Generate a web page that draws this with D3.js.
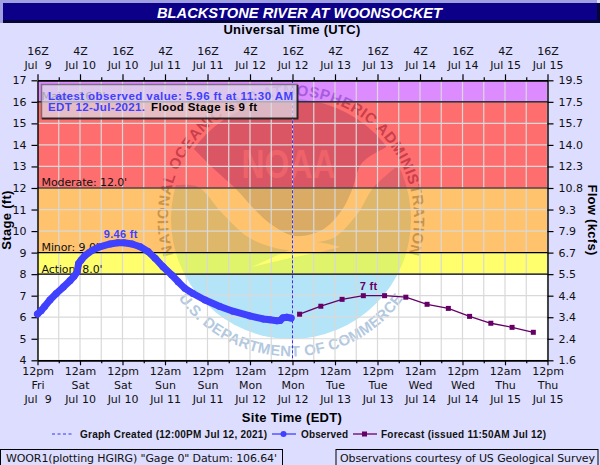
<!DOCTYPE html>
<html>
<head>
<meta charset="utf-8">
<script src="https://d3js.org/d3.v7.min.js"></script>
<style>
  html, body { margin: 0; padding: 0; background: #ddddff; overflow: hidden; }
  svg { display: block; }
  .tick text, .lab { font-family: "DejaVu Sans", sans-serif; font-size: 11px; fill: #111; }
  .bold { font-family: "Liberation Sans", Arial, sans-serif; font-weight: bold; }
</style>
</head>
<body>
<script>
// hours are counted from 12pm EDT Jul 9
const obsHours = [0, 1, 2, 3.5, 5.3, 7.3, 9.2, 10.3, 11.2, 11.6, 12.3, 13.4, 15.4, 17.6, 20.5, 22.7, 24.4, 26.7, 29, 31.2, 33.2, 35.4, 37.9, 39.7, 41.6, 43.9, 47.3, 51.5, 55.2, 60, 63.7, 65.6, 67.6, 68.5, 69.3, 70.4, 71.6];
const obsStage = [6.15, 6.3, 6.5, 6.8, 7.1, 7.4, 7.7, 7.9, 8.1, 8.5, 8.65, 8.86, 9.1, 9.27, 9.4, 9.46, 9.46, 9.4, 9.27, 9.05, 8.74, 8.35, 7.96, 7.65, 7.34, 7.1, 6.8, 6.5, 6.28, 6.06, 5.92, 5.88, 5.84, 5.85, 5.97, 6.0, 5.96];
const fcstHours = [74, 80, 86, 92, 98, 104, 110, 116, 122, 128, 134, 140];
const fcstStage = [6.14, 6.51, 6.83, 7.0, 7.0, 6.93, 6.6, 6.41, 6.04, 5.72, 5.53, 5.3];

const stageTicks = [4, 5, 6, 7, 8, 9, 10, 11, 12, 13, 14, 15, 16, 17];
const flowLabels = ["1.6", "2.4", "3.4", "4.4", "5.5", "6.7", "7.9", "9.3", "10.8", "12.3", "14.0", "15.7", "17.5", "19.5"];

const majorHours = [0, 12, 24, 36, 48, 60, 72, 84, 96, 108, 120, 132, 144];
const minorHours = [6, 18, 30, 42, 54, 66, 78, 90, 102, 114, 126, 138];
const bottomTime = ["12pm", "12am", "12pm", "12am", "12pm", "12am", "12pm", "12am", "12pm", "12am", "12pm", "12am", "12pm"];
const bottomDay = ["Fri", "Sat", "Sat", "Sun", "Sun", "Mon", "Mon", "Tue", "Tue", "Wed", "Wed", "Thu", "Thu"];
const dates = ["Jul  9", "Jul 10", "Jul 10", "Jul 11", "Jul 11", "Jul 12", "Jul 12", "Jul 13", "Jul 13", "Jul 14", "Jul 14", "Jul 15", "Jul 15"];
const topTime = ["16Z", "4Z", "16Z", "4Z", "16Z", "4Z", "16Z", "4Z", "16Z", "4Z", "16Z", "4Z", "16Z"];

const bandFrom = [16, 12, 9, 8];
const bandTo = [17, 16, 12, 9];
const bandColors = ["#c335ff", "#ff0000", "#ff9500", "#ffff00"];
const stageLines = [16, 12, 9, 8];
const stageNames = ["Major: 16.0'", "Moderate: 12.0'", "Minor: 9.0'", "Action: 8.0'"];

const createdHour = 72;
const peakLabel = { hour: 23.5, stage: 9.46, text: "9.46 ft" };
const fcstLabel = { hour: 93.5, stage: 7, text: "7 ft" };

const obsColor = "#4040ff";
const fcstColor = "#660066";
const gridColor = "#d9d9d9";

const plotLeft = 37.5, plotRight = 547.5, plotTop = 80.3, plotBottom = 360.3;

const x = d3.scaleLinear().domain([0, 144]).range([plotLeft, plotRight]);
const y = d3.scaleLinear().domain([4, 17]).range([plotBottom, plotTop]);

const svg = d3.select("body").append("svg").attr("width", 600).attr("height", 465);

svg.append("rect").attr("width", 600).attr("height", 465).attr("fill", "#ddddff");

// title bar
svg.append("rect").attr("width", 600).attr("height", 23).attr("fill", "#9fa0e0");
svg.append("rect").attr("x", 3).attr("y", 3).attr("width", 597).attr("height", 20).attr("fill", "#05053a");
svg.append("rect").attr("x", 3).attr("y", 3).attr("width", 594).attr("height", 17).attr("fill", "#0c0088");
svg.append("rect").attr("x", 597).attr("y", 0).attr("width", 3).attr("height", 3).attr("fill", "#ddddff");
svg.append("text").attr("class", "bold").attr("x", 157).attr("y", 18)
  .attr("fill", "#fff").attr("font-size", 15).attr("font-style", "italic")
  .attr("textLength", 285).attr("lengthAdjust", "spacingAndGlyphs")
  .text("BLACKSTONE RIVER AT WOONSOCKET");

// plot background
svg.append("rect").attr("x", plotLeft).attr("y", plotTop).attr("width", plotRight - plotLeft).attr("height", plotBottom - plotTop).attr("fill", "#fff");

// watermark, sits under the translucent stage bands
const cx = 291, cy = 219, r = 120;
const defs = svg.append("defs");
defs.append("clipPath").attr("id", "plotClip").append("rect")
  .attr("x", plotLeft).attr("y", plotTop).attr("width", plotRight - plotLeft).attr("height", plotBottom - plotTop);
defs.append("clipPath").attr("id", "logoClip").append("circle").attr("cx", cx).attr("cy", cy).attr("r", r);
defs.append("path").attr("id", "arcTop")
  .attr("d", `M${cx - 93},${cy + 80} A123,123 0 1 1 ${cx + 93},${cy + 80}`);
defs.append("path").attr("id", "arcBottom")
  .attr("d", `M${cx - 124},${cy + 60} A138,138 0 0 0 ${cx + 124},${cy + 60}`);

const logo = svg.append("g").attr("clip-path", "url(#plotClip)");
const logoInner = logo.append("g").attr("clip-path", "url(#logoClip)");
const curve = d3.line().curve(d3.curveCatmullRom);
const lowerShape = [[160, 184], [172, 185], [198, 187], [222, 213], [248, 237], [272, 247], [293, 250], [315, 243], [335, 237], [358, 213], [373, 188], [395, 168]];
logoInner.append("path")
  .attr("d", curve(lowerShape) + "L430,168L430,350L160,350Z")
  .attr("fill", "#b4e4f8");
const upperShape = [[193, 148], [215, 170], [235, 188], [258, 213], [275, 227], [295, 236], [322, 230], [342, 210], [352, 190], [362, 163], [385, 148]];
logoInner.append("path")
  .attr("d", curve(upperShape) + "L430,90L160,90Z")
  .attr("fill", "#aac8eb");
const streakTop = [[252, 267], [285, 252], [312, 242], [340, 247]];
logoInner.append("path")
  .attr("d", curve(streakTop) + "L320,252L290,258Z")
  .attr("fill", "#fff");
logo.append("text").attr("class", "bold").attr("x", 288.5).attr("y", 178)
  .attr("text-anchor", "middle").attr("fill", "#fff").attr("fill-opacity", 0.55)
  .attr("font-size", 41).attr("textLength", 94).attr("lengthAdjust", "spacingAndGlyphs")
  .text("NOAA");
logo.append("text").attr("class", "bold").attr("font-size", 15).attr("fill", "#7f93b0")
  .append("textPath").attr("href", "#arcTop").attr("startOffset", "50%").attr("text-anchor", "middle")
  .attr("letter-spacing", 0.6)
  .text("NATIONAL OCEANIC AND ATMOSPHERIC ADMINISTRATION");
logo.append("text").attr("class", "bold").attr("font-size", 15).attr("fill", "#b3c9df")
  .append("textPath").attr("href", "#arcBottom").attr("startOffset", "50%").attr("text-anchor", "middle")
  .attr("letter-spacing", 0.3)
  .text("U.S. DEPARTMENT OF COMMERCE");

// stage bands
svg.append("g").selectAll("rect").data(bandFrom).join("rect")
  .attr("x", plotLeft).attr("width", plotRight - plotLeft)
  .attr("y", (d, i) => y(bandTo[i]))
  .attr("height", (d, i) => y(d) - y(bandTo[i]))
  .attr("fill", (d, i) => bandColors[i])
  .attr("fill-opacity", 0.57);

// grid
const grid = svg.append("g").attr("stroke", gridColor).attr("stroke-width", 1.2);
grid.selectAll("line.v").data(majorHours.concat(minorHours)).join("line").attr("class", "v")
  .attr("x1", d => x(d)).attr("x2", d => x(d)).attr("y1", plotTop).attr("y2", plotBottom);
grid.selectAll("line.h").data(stageTicks).join("line").attr("class", "h")
  .attr("x1", plotLeft).attr("x2", plotRight).attr("y1", d => y(d)).attr("y2", d => y(d));

// flood stage lines and their names
svg.append("g").selectAll("line").data(stageLines).join("line")
  .attr("x1", plotLeft).attr("x2", plotRight).attr("y1", d => y(d)).attr("y2", d => y(d))
  .attr("stroke", "#000").attr("stroke-width", 1.2);
svg.append("g").selectAll("text").data(stageLines).join("text").attr("class", "lab")
  .attr("x", plotLeft + 4).attr("y", d => y(d) - 1.5)
  .attr("letter-spacing", -0.1)
  .text((d, i) => stageNames[i]);

// graph created marker
svg.append("line").attr("x1", x(createdHour)).attr("x2", x(createdHour)).attr("y1", plotTop).attr("y2", plotBottom)
  .attr("stroke", "#3333ff").attr("stroke-dasharray", "3,2").attr("stroke-width", 1);

// axes
function tickStyle(g) {
  g.selectAll(".domain").attr("stroke", "#000").attr("stroke-width", 1.4);
  g.selectAll(".tick line").attr("stroke", "#000").attr("stroke-width", 1.2);
}

function multiLine(g, rows, firstDy) {
  g.selectAll(".tick text").each(function (d, i) {
    const t = d3.select(this).text(null).attr("y", null).attr("dy", null);
    rows.forEach((row, k) => {
      t.append("tspan").attr("x", 0).attr("y", firstDy + k * 14)
        .style("white-space", "pre").text(row[i]);
    });
  });
}

const axisBottom = svg.append("g").attr("transform", `translate(0,${plotBottom})`)
  .call(d3.axisBottom(x).tickValues(majorHours).tickSize(5).tickSizeOuter(0));
multiLine(axisBottom, [bottomTime, bottomDay, dates], 15);
tickStyle(axisBottom);
svg.append("g").attr("transform", `translate(0,${plotBottom})`)
  .call(d3.axisBottom(x).tickValues(minorHours).tickSize(3).tickFormat("").tickSizeOuter(0))
  .call(tickStyle);

const axisTop = svg.append("g").attr("transform", `translate(0,${plotTop})`)
  .call(d3.axisTop(x).tickValues(majorHours).tickSize(6).tickSizeOuter(0));
multiLine(axisTop, [topTime, dates], -25);
tickStyle(axisTop);
svg.append("g").attr("transform", `translate(0,${plotTop})`)
  .call(d3.axisTop(x).tickValues(minorHours).tickSize(3).tickFormat("").tickSizeOuter(0))
  .call(tickStyle);

svg.append("g").attr("transform", `translate(${plotLeft},0)`)
  .call(d3.axisLeft(y).tickValues(stageTicks).tickSize(6).tickSizeOuter(0).tickFormat(d3.format("d")).tickPadding(5))
  .call(tickStyle);

svg.append("g").attr("transform", `translate(${plotRight},0)`)
  .call(d3.axisRight(y).tickValues(stageTicks).tickSize(6).tickSizeOuter(0)
    .tickFormat((d, i) => flowLabels[i]).tickPadding(5))
  .call(tickStyle);

// axis titles
svg.append("text").attr("class", "bold").attr("x", 292).attr("y", 34).attr("text-anchor", "middle")
  .attr("font-size", 13).attr("fill", "#000").attr("letter-spacing", 0.3).text("Universal Time (UTC)");
svg.append("text").attr("class", "bold").attr("x", 292).attr("y", 422).attr("text-anchor", "middle")
  .attr("font-size", 13).attr("fill", "#000").attr("letter-spacing", 0.3).text("Site Time (EDT)");
svg.append("text").attr("class", "bold").attr("transform", "translate(11,220) rotate(-90)")
  .attr("text-anchor", "middle").attr("font-size", 13).attr("fill", "#000").attr("letter-spacing", 0.3).text("Stage (ft)");
svg.append("text").attr("class", "bold").attr("transform", "translate(588,220) rotate(90)")
  .attr("text-anchor", "middle").attr("font-size", 13).attr("fill", "#000").attr("letter-spacing", 0.3).text("Flow (kcfs)");

// observed series
const stageLine = d3.line().x(d => x(d[0])).y(d => y(d[1]));
svg.append("path").datum(d3.zip(obsHours, obsStage))
  .attr("d", stageLine).attr("fill", "none").attr("stroke", obsColor).attr("stroke-width", 7)
  .attr("stroke-linejoin", "round").attr("stroke-linecap", "round");
svg.append("g").selectAll("circle").data(d3.zip(obsHours, obsStage)).join("circle")
  .attr("cx", d => x(d[0])).attr("cy", d => y(d[1])).attr("r", 3.5).attr("fill", obsColor);

// forecast series
svg.append("path").datum(d3.zip(fcstHours, fcstStage))
  .attr("d", stageLine).attr("fill", "none").attr("stroke", fcstColor).attr("stroke-width", 1.3);
svg.append("g").selectAll("rect").data(d3.zip(fcstHours, fcstStage)).join("rect")
  .attr("x", d => x(d[0]) - 2.5).attr("y", d => y(d[1]) - 2.5).attr("width", 5).attr("height", 5).attr("fill", fcstColor);

// peak labels
svg.append("text").attr("class", "bold").attr("x", x(peakLabel.hour)).attr("y", y(peakLabel.stage) - 5)
  .attr("text-anchor", "middle").attr("font-size", 11).attr("fill", obsColor).attr("letter-spacing", 0.3).text(peakLabel.text);
svg.append("text").attr("class", "bold").attr("x", x(fcstLabel.hour)).attr("y", y(fcstLabel.stage) - 6)
  .attr("text-anchor", "middle").attr("font-size", 11).attr("fill", fcstColor).attr("letter-spacing", 0.3).text(fcstLabel.text);

// latest value box
svg.append("rect").attr("x", 41.5).attr("y", 84.5).attr("width", 256).attr("height", 34)
  .attr("fill", "#dddde8").attr("fill-opacity", 0.72).attr("stroke", "#555").attr("stroke-opacity", 0.7).attr("stroke-width", 1.5);
svg.append("path").attr("d", "M297.5,85V118.5H42").attr("fill", "none").attr("stroke", "#000").attr("stroke-opacity", 0.65).attr("stroke-width", 2);
svg.append("text").attr("class", "bold").attr("x", 48).attr("y", 100).attr("font-size", 11.5).attr("fill", obsColor)
  .attr("textLength", 245).text("Latest observed value: 5.96 ft at 11:30 AM");
const line2 = svg.append("text").attr("class", "bold").attr("y", 111).attr("font-size", 11.5);
line2.append("tspan").attr("x", 48).attr("fill", obsColor).attr("textLength", 97).text("EDT 12-Jul-2021.");
line2.append("tspan").attr("x", 151).attr("fill", "#000").attr("textLength", 106).text("Flood Stage is 9 ft");

// legend
const legendY = 434;
svg.append("line").attr("x1", 52).attr("x2", 74).attr("y1", legendY).attr("y2", legendY)
  .attr("stroke", "#3333ff").attr("stroke-dasharray", "3,2.5");
svg.append("text").attr("class", "bold").attr("x", 80).attr("y", legendY + 4).attr("font-size", 10).attr("textLength", 187).attr("fill", "#111")
  .text("Graph Created (12:00PM Jul 12, 2021)");
svg.append("line").attr("x1", 272).attr("x2", 296).attr("y1", legendY).attr("y2", legendY).attr("stroke", obsColor).attr("stroke-width", 1.3);
svg.append("circle").attr("cx", 283.5).attr("cy", legendY).attr("r", 3).attr("fill", obsColor);
svg.append("text").attr("class", "bold").attr("x", 301).attr("y", legendY + 4).attr("font-size", 10).attr("textLength", 47).attr("fill", "#111")
  .text("Observed");
svg.append("line").attr("x1", 353).attr("x2", 377).attr("y1", legendY).attr("y2", legendY).attr("stroke", fcstColor).attr("stroke-width", 1.3);
svg.append("rect").attr("x", 362).attr("y", legendY - 2.5).attr("width", 5).attr("height", 5).attr("fill", fcstColor);
svg.append("text").attr("class", "bold").attr("x", 381).attr("y", legendY + 4).attr("font-size", 10).attr("textLength", 165).attr("fill", "#111")
  .text("Forecast (issued 11:50AM Jul 12)");

// footer boxes
svg.append("rect").attr("x", 0.5).attr("y", 449.5).attr("width", 282).attr("height", 20).attr("fill", "none").attr("stroke", "#000");
svg.append("text").attr("class", "lab").attr("x", 6).attr("y", 461.5).attr("textLength", 271)
  .text("WOOR1(plotting HGIRG) \"Gage 0\" Datum: 106.64'");
svg.append("rect").attr("x", 336).attr("y", 449.5).attr("width", 262).attr("height", 20).attr("fill", "none").attr("stroke", "#000");
svg.append("text").attr("class", "lab").attr("x", 340).attr("y", 461.5).attr("textLength", 255)
  .text("Observations courtesy of US Geological Survey");
</script>
</body>
</html>
